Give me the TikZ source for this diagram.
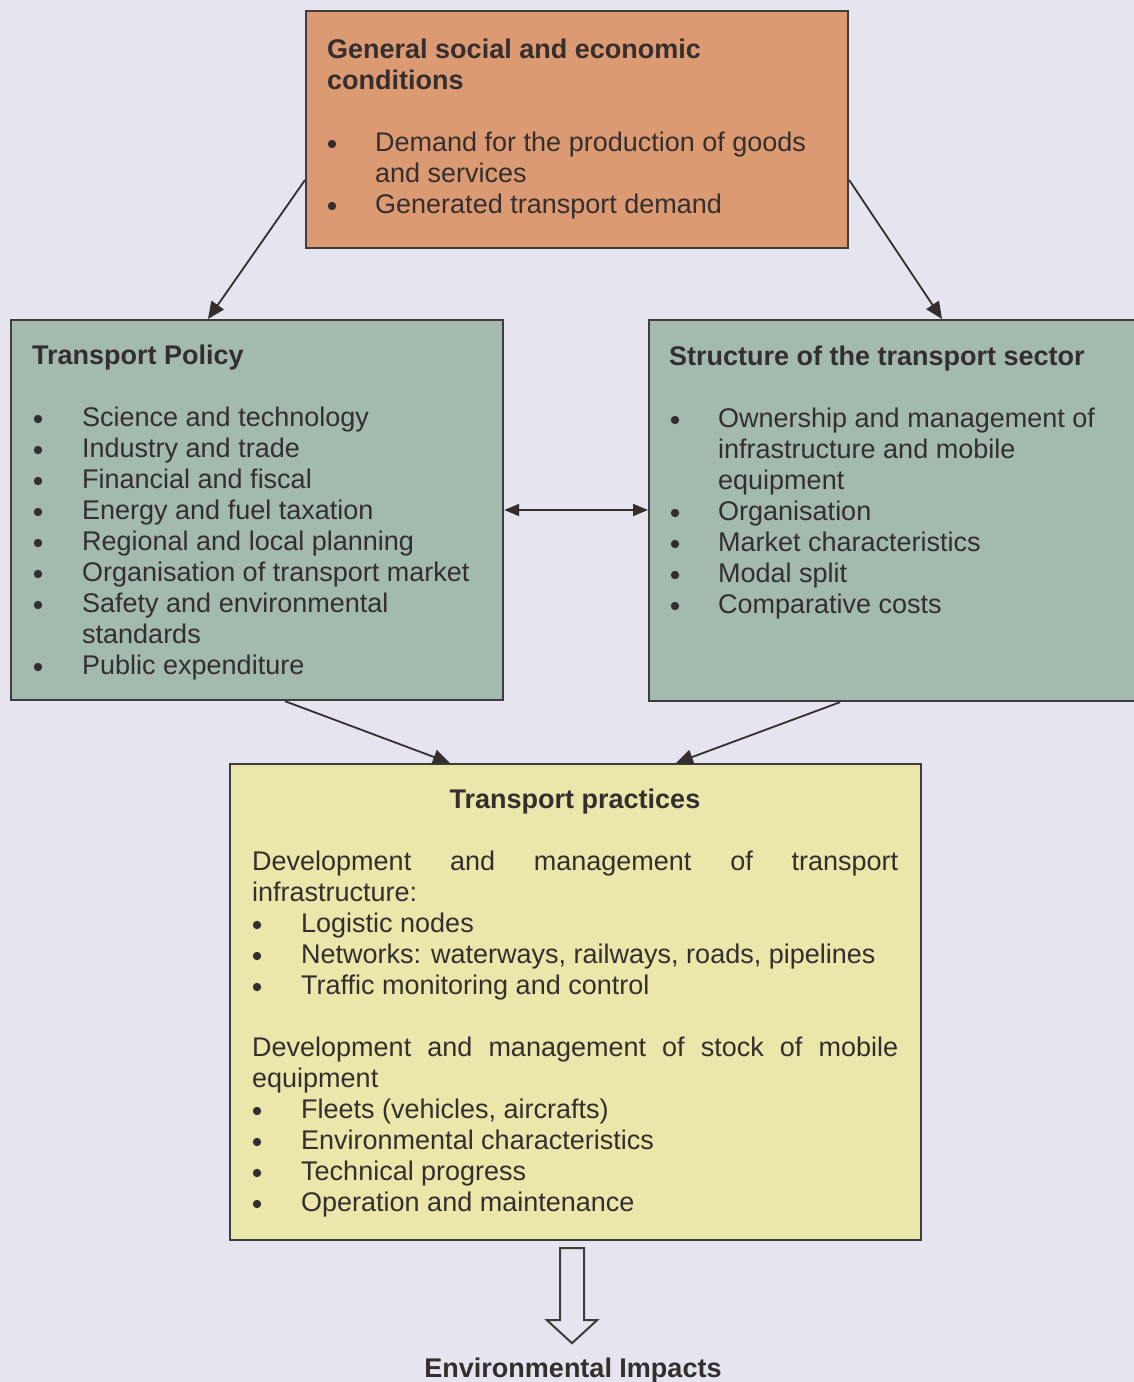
\documentclass[tikz,border=0pt]{standalone}
\usepackage{fontspec}
\setmainfont{Liberation Sans}
\usetikzlibrary{arrows.meta,calc}

\definecolor{bg}{RGB}{229,228,239}
\definecolor{ink}{RGB}{52,46,46}
\definecolor{edge}{RGB}{64,60,62}
\definecolor{orangebox}{RGB}{220,154,114}
\definecolor{greenbox}{RGB}{163,186,174}
\definecolor{yellowbox}{RGB}{233,231,170}

\begin{document}
\begin{tikzpicture}[x=1pt,y=-1pt,
  txt/.style={anchor=base west, inner sep=0pt, text=ink, font=\fontsize{27}{31}\selectfont},
  ttl/.style={anchor=base west, inner sep=0pt, text=ink, font=\fontsize{27}{31}\selectfont\bfseries},
  panel/.style={draw=edge, line width=2.2pt, anchor=north west, inner sep=0pt},
  conn/.style={draw=ink, line width=1.8pt, -{Triangle[length=17pt,width=15pt]}},
  biconn/.style={draw=ink, line width=1.8pt, {Triangle[length=15pt,width=12pt]}-{Triangle[length=15pt,width=12pt]}},
]
\useasboundingbox (0,0) rectangle (1134,1382);
\fill[bg] (0,0) rectangle (1134,1382);

% list entry: bullet disc plus text, on a given baseline
\newcommand{\blt}[5]{%
  \fill[ink] (#2,#3-7) circle (4.2pt);
  \node[txt] (#1) at (#4,#3) {#5};}

% ---------- boxes ----------
\node[panel, fill=orangebox, minimum width=542pt, minimum height=237pt] (top) at (305,10) {};
\node[panel, fill=greenbox, minimum width=492pt, minimum height=380pt] (policy) at (10,319) {};
\node[panel, fill=greenbox, minimum width=492pt, minimum height=381pt] (sector) at (648,319) {};
\node[panel, fill=yellowbox, minimum width=691pt, minimum height=476pt] (practice) at (229,763) {};

% ---------- general conditions ----------
\node[ttl] (t1a) at (327,58) {General social and economic};
\node[ttl] (t1b) at (327,89) {conditions};
\blt{g1}{332}{151}{375}{Demand for the production of goods}
\node[txt] (g1b) at (375,182) {and services};
\blt{g2}{332}{213}{375}{Generated transport demand}

% ---------- transport policy ----------
\node[ttl] (t2) at (32,364) {Transport Policy};
\blt{p1}{38}{426}{82}{Science and technology}
\blt{p2}{38}{457}{82}{Industry and trade}
\blt{p3}{38}{488}{82}{Financial and fiscal}
\blt{p4}{38}{519}{82}{Energy and fuel taxation}
\blt{p5}{38}{550}{82}{Regional and local planning}
\blt{p6}{38}{581}{82}{Organisation of transport market}
\blt{p7}{38}{612}{82}{Safety and environmental}
\node[txt] (p7b) at (82,643) {standards};
\blt{p8}{38}{674}{82}{Public expenditure}

% ---------- structure of the sector ----------
\node[ttl] (t3) at (669,365) {Structure of the transport sector};
\blt{s1}{675}{427}{718}{Ownership and management of}
\node[txt] (s1b) at (718,458) {infrastructure and mobile};
\node[txt] (s1c) at (718,489) {equipment};
\blt{s2}{675}{520}{718}{Organisation}
\blt{s3}{675}{551}{718}{Market characteristics}
\blt{s4}{675}{582}{718}{Modal split}
\blt{s5}{675}{613}{718}{Comparative costs}

% ---------- transport practices ----------
\node[ttl, anchor=base] (t4) at (575,808) {Transport practices};
\node[txt] (d1) at (252,870) {\hbox to 646pt{Development\hfill and\hfill management\hfill of\hfill transport}};
\node[txt] (d1b) at (252,901) {infrastructure:};
\blt{i1}{257}{932}{301}{Logistic nodes}
\blt{i2}{257}{963}{301}{Networks: waterways, railways, roads, pipelines}
\blt{i3}{257}{994}{301}{Traffic monitoring and control}
\node[txt] (d2) at (252,1056) {\hbox to 646pt{Development\hfill and\hfill management\hfill of\hfill stock\hfill of\hfill mobile}};
\node[txt] (d2b) at (252,1087) {equipment};
\blt{m1}{257}{1118}{301}{Fleets (vehicles, aircrafts)}
\blt{m2}{257}{1149}{301}{Environmental characteristics}
\blt{m3}{257}{1180}{301}{Technical progress}
\blt{m4}{257}{1211}{301}{Operation and maintenance}

% ---------- outcome ----------
\node[ttl, anchor=base] (impact) at (573,1377) {Environmental Impacts};

% ---------- connectors ----------
\draw[conn] ($(top.north west)+(0,170)$) -- ($(policy.north west)+(198,0)$);
\draw[conn] ($(top.north east)+(0,170)$) -- ($(sector.north west)+(294,0)$);
\draw[biconn] ($(policy.north east)+(0,191)$) -- ($(sector.north west)+(0,191)$);
\draw[conn] ($(policy.south west)+(275,0)$) -- ($(practice.north west)+(221,0)$);
\draw[conn] ($(sector.south west)+(192,0)$) -- ($(practice.north west)+(447,0)$);

% hollow block arrow towards the impacts
\coordinate (ha) at ($(practice.south west)+(343,7)$);
\draw[edge, line width=2pt, line join=miter]
  (ha) -- ++(-12,0) -- ++(0,72) -- ++(-13,0) -- ++(25,23) -- ++(25,-23) -- ++(-13,0) -- ++(0,-72) -- cycle;
\end{tikzpicture}
\end{document}
